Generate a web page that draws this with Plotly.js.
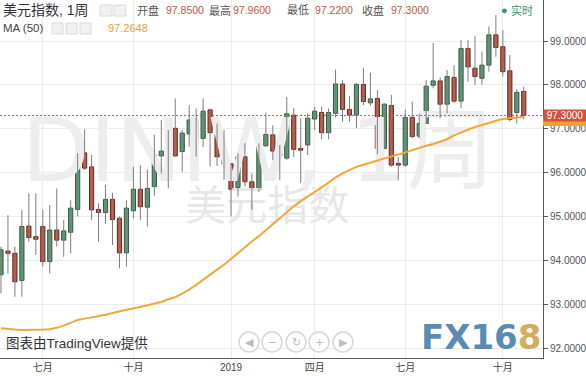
<!DOCTYPE html>
<html><head><meta charset="utf-8">
<script src="https://cdn.plot.ly/plotly-3.0.1.min.js"></script>
<style>html,body{margin:0;padding:0;background:#fff;}#chart{width:586px;height:376px;}</style>
</head><body><div id="chart"></div>
<script>
// Weekly candles of the US Dollar Index (美元指数)
const openV  = [93.67,94.21,94.16,93.54,94.78,94.54,94.77,93.97,94.69,94.46,94.64,95.16,96.45,96.13,95.16,95.09,95.39,94.96,94.17,95.13,
                95.62,95.21,95.68,96.38,96.40,97.01,96.48,96.88,97.18,96.78,97.43,96.87,96.38,96.20,95.66,96.36,95.79,95.59,96.61,96.86,
                96.53,96.33,97.31,96.55,96.63,97.22,97.37,96.91,97.35,98.02,97.44,97.31,98.01,97.59,97.69,96.55,97.53,96.21,96.17,97.26,
                96.83,97.12,97.99,98.09,97.56,98.17,97.63,98.83,98.38,98.15,98.45,99.14,98.87,98.32,97.37,97.85];
const highV  = [94.31,95.03,94.31,95.15,95.53,95.53,95.15,95.26,95.64,94.92,95.37,96.44,96.99,96.40,95.30,95.72,95.54,95.00,95.37,96.13,
                96.17,96.07,96.86,97.20,96.97,97.69,96.97,97.54,97.46,97.69,97.46,97.12,96.97,96.21,96.44,96.67,95.98,96.67,97.37,97.08,
                96.63,97.72,97.47,97.24,97.35,97.50,97.50,97.46,98.35,98.11,97.75,98.04,98.38,98.28,97.88,97.58,97.77,96.36,97.43,97.62,
                97.35,98.11,98.96,98.17,98.34,98.45,99.02,99.02,99.11,98.76,99.33,99.59,99.25,98.68,97.90,97.96];
const lowV   = [93.25,93.70,93.17,93.17,94.42,94.12,93.85,93.70,94.31,94.08,94.16,95.00,96.06,94.92,94.42,94.84,94.35,93.82,93.85,94.96,
                94.92,94.77,95.47,95.98,95.64,96.36,96.02,96.59,96.36,96.58,96.14,96.15,95.83,95.00,95.45,95.68,95.15,95.56,96.59,96.29,
                95.83,96.29,96.36,95.76,96.40,96.97,96.76,96.76,97.26,97.16,97.16,97.01,97.54,97.52,96.42,96.55,96.13,95.83,96.13,96.78,
                96.78,97.11,97.92,97.24,97.35,97.58,97.47,98.07,98.00,98.00,98.30,98.64,98.19,97.16,97.12,97.22];
const closeV = [94.24,94.16,93.51,94.77,94.52,94.48,93.97,94.69,94.46,94.67,95.19,96.33,96.10,95.15,95.09,95.39,94.93,94.17,95.19,95.62,
                95.22,95.64,96.40,96.49,96.93,96.38,96.90,97.20,96.78,97.40,96.91,96.36,96.20,95.62,96.36,95.79,95.59,96.63,96.87,96.49,
                96.38,97.34,96.53,96.51,97.24,97.40,96.91,97.37,98.02,97.44,97.31,98.01,97.62,97.68,96.55,97.56,96.17,96.17,97.26,96.82,
                97.12,97.97,98.09,97.56,98.19,97.63,98.83,98.41,98.19,98.45,99.14,98.85,98.30,97.21,97.83,97.30];
// MA (50) line
const maV    = [92.45,92.43,92.42,92.41,92.41,92.41,92.42,92.43,92.46,92.51,92.58,92.64,92.67,92.70,92.72,92.76,92.80,92.84,92.87,92.90,
                92.94,92.97,93.01,93.05,93.11,93.16,93.24,93.33,93.44,93.55,93.66,93.78,93.90,94.03,94.17,94.30,94.43,94.55,94.69,94.83,
                94.95,95.09,95.23,95.35,95.45,95.56,95.66,95.77,95.89,95.98,96.06,96.13,96.18,96.23,96.28,96.32,96.37,96.41,96.46,96.51,
                96.57,96.61,96.65,96.70,96.76,96.85,96.92,96.98,97.04,97.08,97.13,97.18,97.22,97.24,97.26,97.2648];
// x-axis month labels: bar index where each month starts
const tickIdx  = [6, 19, 33, 45, 58, 72];
const tickText = ['七月','十月','2019','四月','七月','十月'];
const yTicks   = [92, 93, 94, 95, 96, 97, 98, 99];
const lastPrice = 97.30;
const lastMA    = 97.2648;

const idx = openV.map((_, i) => i);
const wx = [], wy = [];
idx.forEach(i => { wx.push(i, i, null); wy.push(highV[i], lowV[i], null); });
const up = idx.map(i => closeV[i] >= openV[i]);
const base = idx.map(i => Math.min(openV[i], closeV[i]));
const hgt = idx.map(i => Math.max(Math.abs(closeV[i] - openV[i]), 0.025));

const PW = 543, PH = 358;
const px = x => x / PW;
const py = y => (PH - y) / PH;
const FONT = 'Liberation Sans, Noto Sans CJK SC, sans-serif';

const traces = [
  {type:'scatter', mode:'text', x:[36.9], y:[96.32], text:['DINIW, 1周'], textposition:'middle center',
   textfont:{size:88, color:'#ededed', family:'DejaVu Sans, Noto Sans CJK SC'}, hoverinfo:'skip', cliponaxis:false},
  {type:'scatter', mode:'text', x:[38.2], y:[95.16], text:['美元指数'], textposition:'middle center',
   textfont:{size:41, color:'#e7e7e7', family:'Noto Sans CJK SC'}, hoverinfo:'skip', cliponaxis:false},
  {type:'scatter', mode:'lines', x:wx, y:wy, line:{color:'#7d7d7d', width:1}, hoverinfo:'skip', connectgaps:false},
  {type:'bar', x:idx, y:hgt, base:base, width:0.6,
   marker:{color: up.map(u => u ? '#5a9c78' : '#c84f3d'),
           line:{color: up.map(u => u ? '#2c5b41' : '#6b281d'), width:1}}, hoverinfo:'skip'},
  {type:'scatter', mode:'lines', x:idx, y:maV, line:{color:'#f2a53a', width:2}, hoverinfo:'skip'}
];

const shapes = [
  {type:'line', xref:'paper', x0:0, x1:1, yref:'y', y0:lastPrice, y1:lastPrice, line:{color:'#d9503f', width:1, dash:'2px,2px'}},
  // MA value marker peeking out below the price label on the right axis
  {type:'rect', xref:'paper', x0:1, x1:586/543, yref:'y', y0:lastMA - 0.2, y1:lastMA, fillcolor:'#f0a030', line:{width:0}, layer:'above'}
];
// header icons
[[100,112,5,16],[114,126,5,16],[52,63,23,34],[66,77,23,34],[80,91,23,34]].forEach(r => {
  shapes.push({type:'rect', xref:'paper', yref:'paper', x0:px(r[0]), x1:px(r[1]), y0:py(r[3]), y1:py(r[2]),
               fillcolor:'#f1f1f1', line:{color:'#dadada', width:1}});
});
// navigation buttons
const navX = [249, 272, 296, 319, 343];
const navSym = ['◀','−','↻','+','▶'];
navX.forEach(c => {
  shapes.push({type:'circle', xref:'paper', yref:'paper', x0:px(c-10), x1:px(c+10), y0:py(342+10), y1:py(342-10),
               fillcolor:'rgba(255,255,255,0.7)', line:{color:'#d6d6d6', width:1.5}});
});

const ann = [];
function txt(x, y, t, size, color, extra) {
  ann.push(Object.assign({xref:'paper', yref:'paper', x:px(x), y:py(y), xanchor:'left', yanchor:'middle',
    text:t, showarrow:false, font:{size:size, color:color, family:FONT}, borderpad:0}, extra || {}));
}
txt(2, 10, '美元指数, 1周', 14, '#333');
txt(136, 10, '开盘', 11, '#555');
txt(165, 10, openV[75].toFixed(4), 10.5, '#c0574a');
txt(208, 10, '最高', 11, '#555');
txt(232, 10, highV[75].toFixed(4), 10.5, '#c0574a');
txt(286, 10, '最低', 11, '#555');
txt(314, 10, lowV[75].toFixed(4), 10.5, '#c0574a');
txt(361, 10, '收盘', 11, '#555');
txt(390, 10, closeV[75].toFixed(4), 10.5, '#c0574a');
txt(500, 10, '●', 11, '#3a9a6c');
txt(510, 10, '实时', 11, '#3f8f68');
txt(2, 28, 'MA (50)', 11.5, '#444');
txt(107, 28, lastMA.toFixed(4), 11, '#e9a23b');
txt(5, 343, '图表由TradingView提供', 13.5, '#333');
navX.forEach((c, k) => {
  ann.push({xref:'paper', yref:'paper', x:px(c), y:py(342), xanchor:'center', yanchor:'middle', text:navSym[k],
            showarrow:false, font:{size:11, color:'#bdbdbd', family:'DejaVu Sans'}});
});
ann.push({xref:'paper', yref:'paper', x:px(481), y:py(337), xanchor:'center', yanchor:'middle',
  text:'<b><span style="color:#5a8cb2">FX16</span><span style="color:#d2ad5e">8</span></b>',
  showarrow:false, font:{size:34, family:'DejaVu Sans'}});
// right-axis last price label
ann.push({xref:'paper', yref:'y', x:1, y:lastPrice, xanchor:'left', yanchor:'middle', text:lastPrice.toFixed(4),
  showarrow:false, bgcolor:'#d0533f', width:42, height:11, borderpad:0, font:{size:10, color:'#fff', family:FONT}});

const layout = {
  width:586, height:376, margin:{l:0, r:43, t:0, b:18, pad:0},
  paper_bgcolor:'#fff', plot_bgcolor:'#fff', showlegend:false, barmode:'overlay',
  xaxis:{range:[-0.14, 77.76], tickmode:'array', tickvals:tickIdx, ticktext:tickText, showgrid:true,
         gridcolor:'#ebebeb', zeroline:false, showline:true, linecolor:'#5a5a5a', linewidth:1, ticks:'',
         tickfont:{size:10, color:'#444', family:FONT}, fixedrange:true},
  yaxis:{side:'right', range:[91.772, 99.935], tickmode:'array', tickvals:yTicks, tickformat:'.4f', showgrid:true,
         gridcolor:'#ebebeb', zeroline:false, showline:true, linecolor:'#5a5a5a', linewidth:1, ticks:'outside',
         ticklen:4, tickcolor:'#5a5a5a', tickfont:{size:10, color:'#555', family:FONT}, fixedrange:true},
  shapes:shapes, annotations:ann
};
Plotly.newPlot('chart', traces, layout, {staticPlot:true, displayModeBar:false});
</script></body></html>
